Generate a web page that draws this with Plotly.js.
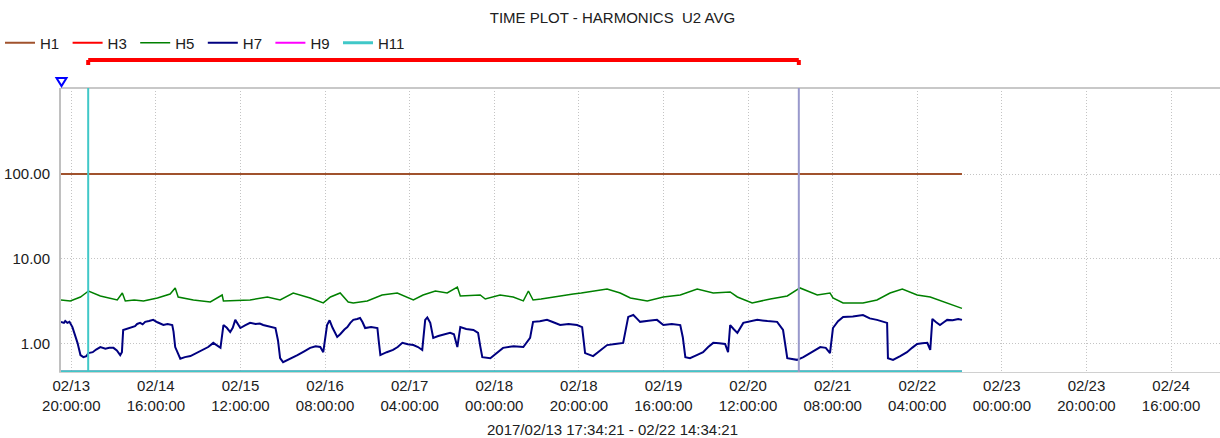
<!DOCTYPE html>
<html><head><meta charset="utf-8">
<script src="https://cdn.plot.ly/plotly-3.0.1.min.js"></script>
<style>html,body{margin:0;padding:0;background:#fff}#chart{width:1220px;height:438px}</style>
</head><body><div id="chart"></div>
<script>
// ---- data (hours after 2017-02-13 17:34:21) ----
const seriesNames = ['H1','H3','H5','H7','H9','H11'];
const seriesColors = ['#a0522d','#ff0000','#008000','#000080','#ff00ff','#40c8c8'];

const h1Hours = [0, 213];
const h1Values = [100, 100];
const h3Hours = [0, 213];
const h3Values = [0.47, 0.47];
const h9Hours = [0, 213];
const h9Values = [0.47, 0.47];
const h11Hours = [0, 213];
const h11Values = [0.47, 0.47];

const h5Hours = [0,2.2,4.6,6.5,9.3,13.3,14.5,15.2,17.3,19.5,
  22.8,25.8,27.0,27.7,31.3,35.3,38.1,38.4,44.7,46.5,
  48.8,51.8,54.9,58.9,62.0,63.7,66.0,67.9,69.1,72.4,
  75.9,79.5,83.3,85.6,88.5,91.3,93.7,94.4,99.1,100.3,
  103.8,106.9,109.3,110.5,111.6,113.5,115.0,116.4,118.5,120.0,
  121.1,123.0,124.5,125.8,127.5,129.1,132.2,134.6,138.6,142.4,
  146.4,150.4,154.2,158.2,159.9,163.4,167.7,171.7,174.7,178.8,
  181.8,182.5,184.9,189.6,192.9,196.0,198.9,202.4,205.5,209.5,
  212.5,213];
const h5Values = [3.29,3.21,3.57,4.20,3.67,3.29,3.98,3.21,3.29,3.21,
  3.48,3.87,4.56,3.57,3.29,3.12,3.77,3.21,3.29,3.38,
  3.57,3.29,3.98,3.48,3.04,3.57,3.98,3.12,3.04,3.21,
  3.77,3.98,3.29,3.77,4.20,3.98,4.68,3.67,3.77,3.38,
  3.77,3.57,3.21,4.20,3.29,3.38,3.48,3.57,3.67,3.77,
  3.87,3.98,4.09,4.20,4.30,4.44,3.98,3.48,3.21,3.57,
  3.77,4.44,3.98,4.09,3.57,3.04,3.38,3.67,4.56,3.77,
  3.98,3.48,3.04,3.04,3.29,3.98,4.44,3.77,3.57,3.04,
  2.65,2.62];

const h7Hours = [0,0.7,1.0,1.5,2.0,2.7,3.9,4.6,5.3,6.0,
  6.5,7.5,8.3,9.3,10.5,11.4,12.4,13.2,14.0,14.4,
  14.7,15.5,16.4,17.5,18.0,18.7,19.3,19.9,20.8,21.8,
  22.8,23.5,24.2,25.2,26.3,26.6,27.0,28.2,29.3,30.6,
  32.0,33.6,34.8,36.0,36.8,37.7,38.4,39.2,40.0,40.6,
  41.2,41.8,42.4,43.5,44.7,46.0,47.0,47.8,49.2,50.7,
  51.3,51.8,52.5,54.0,55.9,57.5,58.9,60.2,61.3,62.0,
  62.9,63.5,64.2,65.3,66.0,67.0,67.7,68.4,69.1,70.0,
  70.7,71.3,71.9,73.3,74.8,75.1,75.5,77.0,78.5,79.6,
  80.7,82.0,83.3,84.4,85.4,86.1,86.6,87.3,88.0,89.2,
  90.4,91.2,92.0,92.9,93.7,94.4,95.8,97.5,98.6,99.1,
  99.6,101.5,103.0,104.5,107.0,109.3,110.9,111.6,113.2,114.9,
  116.4,118.0,120.0,122.0,123.2,123.9,125.8,127.5,129.1,131.0,
  132.9,134.1,135.3,136.1,136.9,138.9,140.9,142.4,144.4,146.4,
  147.0,147.6,148.7,150.3,151.8,153.0,154.2,155.6,157.0,157.7,
  158.2,159.0,159.9,161.3,163.0,164.6,167.0,169.3,170.7,171.2,
  171.7,174.0,175.5,177.5,179.5,180.8,181.8,182.5,183.7,184.9,
  187.2,189.6,191.2,192.9,194.1,195.3,195.5,196.7,198.4,200.0,
  201.2,202.4,203.6,204.8,205.5,206.0,206.9,207.8,208.7,209.5,
  210.8,212.1,213];
const h7Values = [1.82,1.77,1.86,1.77,1.82,1.58,1.03,0.74,0.70,0.72,
  0.78,0.80,0.86,0.92,0.88,0.90,0.90,0.84,0.74,0.80,
  1.46,1.50,1.54,1.62,1.72,1.77,1.70,1.82,1.86,1.92,
  1.80,1.74,1.67,1.72,1.67,1.40,0.92,0.67,0.70,0.72,
  0.78,0.85,0.92,1.03,0.97,0.90,1.67,1.55,1.38,1.55,
  1.92,1.70,1.54,1.65,1.77,1.72,1.74,1.67,1.62,1.54,
  1.10,0.68,0.61,0.66,0.74,0.82,0.90,0.94,0.92,0.80,
  1.67,1.90,1.55,1.21,1.30,1.48,1.58,1.77,1.92,1.97,
  2.02,1.80,1.54,1.58,1.54,1.10,0.74,0.80,0.85,0.92,
  1.03,0.99,0.97,0.92,0.85,1.92,2.05,1.77,1.18,1.24,
  1.28,1.30,1.35,1.30,0.92,1.58,1.50,1.46,1.35,0.95,
  0.70,0.68,0.78,0.90,0.94,0.92,1.18,1.82,1.85,1.92,
  1.80,1.67,1.72,1.67,1.58,0.78,0.72,0.85,0.97,1.00,
  1.03,2.08,2.19,2.00,1.82,1.87,1.92,1.67,1.72,1.67,
  1.20,0.70,0.68,0.74,0.80,0.92,1.03,1.02,1.00,0.80,
  1.67,1.50,1.35,1.77,1.85,1.92,1.86,1.82,1.46,1.00,
  0.68,0.65,0.70,0.80,0.92,0.90,0.78,1.54,1.85,2.08,
  2.10,2.19,2.00,1.92,1.85,1.77,0.68,0.65,0.72,0.80,
  0.90,1.00,1.02,1.03,0.85,1.97,1.80,1.67,1.80,1.92,
  1.90,1.97,1.92];

const xTickVals = ['2017-02-13 20:00','2017-02-14 16:00','2017-02-15 12:00','2017-02-16 08:00',
  '2017-02-17 04:00','2017-02-18 00:00','2017-02-18 20:00','2017-02-19 16:00','2017-02-20 12:00',
  '2017-02-21 08:00','2017-02-22 04:00','2017-02-23 00:00','2017-02-23 20:00','2017-02-24 16:00'];
const xTickText = ['02/13<br>20:00:00','02/14<br>16:00:00','02/15<br>12:00:00','02/16<br>08:00:00',
  '02/17<br>04:00:00','02/18<br>00:00:00','02/18<br>20:00:00','02/19<br>16:00:00','02/20<br>12:00:00',
  '02/21<br>08:00:00','02/22<br>04:00:00','02/23<br>00:00:00','02/23<br>20:00:00','02/24<br>16:00:00'];
const yTickVals = [1, 10, 100];
const yTickText = ['1.00', '10.00', '100.00'];
const cursorTimes = ['2017-02-14 00:00:00', '2017-02-21 00:00:00'];
const titleText = 'TIME PLOT - HARMONICS  U2 AVG';
const rangeText = '2017/02/13 17:34:21 - 02/22 14:34:21';
const xRange = ['2017-02-13 17:34:21', '2017-02-25 03:34:21'];

// ---- helpers ----
const startMs = Date.UTC(2017,1,13,17,34,21);
function toDate(h){ return new Date(startMs + h*3600000).toISOString().replace('T',' ').slice(0,19); }

const FONT = '"Liberation Sans", Arial, sans-serif';
const FS = 15;
const hoursList = [h1Hours,h3Hours,h5Hours,h7Hours,h9Hours,h11Hours];
const valuesList = [h1Values,h3Values,h5Values,h7Values,h9Values,h11Values];
const widths = [2,2,1.5,2,2,3];

const traces = seriesNames.map((n,i)=>({
  type:'scatter', mode:'lines', name:n,
  x: hoursList[i].map(toDate), y: valuesList[i],
  line:{color:seriesColors[i], width:widths[i]},
  hoverinfo:'x+y+name'
}));

const H = 284; // plot height px for paper conversion
const W = 1159;
const layout = {
  width:1220, height:438,
  margin:{l:61, r:0, t:88, b:66},
  paper_bgcolor:'#ffffff', plot_bgcolor:'#ffffff',
  font:{family:FONT, size:FS, color:'#202020'},
  title:{text:titleText, font:{family:FONT, size:FS, color:'#202020'}, xref:'container', x:0.502, xanchor:'center', yref:'container', y:1-18/438, yanchor:'middle'},
  showlegend:true,
  legend:{orientation:'h', xref:'container', yref:'container', x:-3/1220, xanchor:'left', y:1-43/438, yanchor:'middle',
    font:{family:FONT, size:FS, color:'#202020'}, entrywidth:22.6, entrywidthmode:'pixels',
    bgcolor:'rgba(0,0,0,0)', itemclick:false},
  xaxis:{type:'date', range:xRange, tickmode:'array', tickvals:xTickVals, ticktext:xTickText,
    showgrid:true, gridcolor:'#c4c4c4', griddash:'1px,2px', gridwidth:1,
    showline:true, linecolor:'#d0d0d0', linewidth:1, ticks:'', zeroline:false, automargin:false,
    tickfont:{family:FONT, size:FS, color:'#202020'}},
  yaxis:{type:'log', range:[-0.33, 3.012], tickmode:'array', tickvals:yTickVals, ticktext:yTickText,
    showgrid:true, gridcolor:'#c4c4c4', griddash:'1px,2px', gridwidth:1,
    showline:true, linecolor:'#c0c0c0', linewidth:2, ticks:'', ticklabelstandoff:6, zeroline:false, automargin:false,
    tickfont:{family:FONT, size:FS, color:'#202020'}},
  shapes:[
    {type:'line', xref:'paper', yref:'paper', x0:0, x1:1, y0:1, y1:1, line:{color:'#c8c8c8', width:2}},
    {type:'line', xref:'x', yref:'paper', x0:cursorTimes[0], x1:cursorTimes[0], y0:0, y1:1, line:{color:'#40c8c8', width:2}},
    {type:'line', xref:'x', yref:'paper', x0:cursorTimes[1], x1:cursorTimes[1], y0:0, y1:1, line:{color:'#9999cc', width:2}},
    {type:'line', xref:'x', yref:'paper', x0:cursorTimes[0], x1:cursorTimes[1], y0:1+(88-60)/H, y1:1+(88-60)/H, line:{color:'#ff0000', width:4}},
    {type:'line', xref:'x', yref:'paper', x0:cursorTimes[0], x1:cursorTimes[0], y0:1+(88-60)/H, y1:1+(88-65)/H, line:{color:'#ff0000', width:4}},
    {type:'line', xref:'x', yref:'paper', x0:cursorTimes[1], x1:cursorTimes[1], y0:1+(88-60)/H, y1:1+(88-65)/H, line:{color:'#ff0000', width:4}},
    {type:'path', xref:'paper', yref:'paper',
      path:`M ${-4.5/W} ${1+10/H} L ${5.5/W} ${1+10/H} L ${0.5/W} ${1+2/H} Z`,
      line:{color:'#0000ff', width:2}, fillcolor:'#ffffff'}
  ],
  annotations:[
    {xref:'paper', yref:'paper', x:(612-61)/W, y:-(429-372)/H, xanchor:'center', yanchor:'middle',
     text:rangeText, showarrow:false, font:{family:FONT, size:FS, color:'#202020'}}
  ]
};

Plotly.newPlot('chart', traces, layout, {displayModeBar:false, staticPlot:true});
</script></body></html>
